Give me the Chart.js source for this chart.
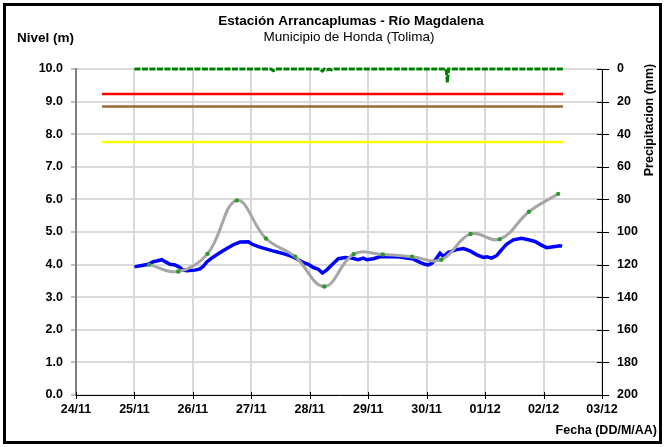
<!DOCTYPE html>
<html>
<head>
<meta charset="utf-8">
<script src="https://cdn.jsdelivr.net/npm/chart.js@4.4.1/dist/chart.umd.min.js"></script>
<style>
html,body{margin:0;padding:0;background:#fff;}
#c{display:block;}
</style>
</head>
<body>
<canvas id="c" width="665" height="447"></canvas>
<script>
// ---- data ----
const dateLabels = ['24/11','25/11','26/11','27/11','28/11','29/11','30/11','01/12','02/12','03/12'];
const levelTicks = [0,1,2,3,4,5,6,7,8,9,10];
const rainTicks = [0,20,40,60,80,100,120,140,160,180,200];

// observed level (hours since 24/11 00:00)
const levelHours = [24,27.0,29.7,31.7,33.1,35.2,36.6,38.6,40.7,42.7,43.8,45.5,48.9,50.9,52.3,53.7,55.7,58.4,61.2,64.6,67.4,70.8,72.2,74.9,77.6,80.4,83.1,85.8,88.6,91.3,93.3,95.4,97.5,99.5,101.2,103.0,105.0,107.7,110.5,113.2,115.9,118.0,119.4,122.1,124.8,127.6,130.3,133.1,135.8,138.5,141.3,143.3,144.7,146.1,148.1,149.5,150.9,152.9,156.3,159.1,161.8,164.6,167.3,168.7,170.7,172.8,174.8,176.9,179.6,183.0,185.8,188.5,191.3,193.3,196.0,198.8,199.6];
const levelValues = [3.93,3.97,4.01,4.09,4.11,4.15,4.09,4.01,3.99,3.91,3.84,3.81,3.83,3.87,3.95,4.08,4.20,4.33,4.46,4.61,4.69,4.70,4.63,4.55,4.49,4.43,4.38,4.32,4.25,4.15,4.07,4.01,3.91,3.86,3.74,3.84,3.99,4.18,4.22,4.20,4.15,4.20,4.15,4.18,4.24,4.25,4.24,4.23,4.20,4.17,4.07,4.01,3.99,4.04,4.20,4.35,4.25,4.38,4.46,4.49,4.42,4.30,4.22,4.24,4.20,4.28,4.46,4.63,4.76,4.81,4.76,4.71,4.59,4.52,4.55,4.58,4.56];

// forecast level
const forecastHours = [30,42,54,66,78,90,102,114,126,138,150,162,174,186,198];
const forecastValues = [4.00,3.79,4.33,5.97,4.80,4.24,3.33,4.32,4.31,4.24,4.15,4.94,4.78,5.62,6.17];

// alert thresholds
const thresholdHours = [10.7,200];
const redLevel = 9.23;
const brownLevel = 8.85;
const yellowLevel = 7.76;

// precipitation (mm)
const rainHours = [24,80,81,82,100,101.2,102,103,104,105,106,152,152.5,153,200];
const rainValues = [0,0,1.0,0,0,1.3,0,0.5,0,0.5,0,0,8.2,0,0];

// ---- helpers ----
const FONT = "'Liberation Sans', Arial, sans-serif";
function pts(xs, ys){ return xs.map((x,i)=>({x:x, y:ys[i]})); }
function flat(xs, v){ return xs.map(x=>({x:x, y:v})); }

const decor = {
  id:'decor',
  beforeDraw(chart){
    const ctx = chart.ctx;
    ctx.save();
    ctx.fillStyle = '#fff';
    ctx.fillRect(0,0,chart.width,chart.height);
    ctx.restore();
  },
  afterDraw(chart){
    const ctx = chart.ctx;
    const xs = chart.scales.x, y2 = chart.scales.y2;
    const ca = chart.chartArea;
    ctx.save();
    // crossing ticks
    ctx.strokeStyle = '#000';
    ctx.lineWidth = 1;
    ctx.beginPath();
    dateLabels.forEach((l,i)=>{
      const px = Math.round(xs.getPixelForValue(i*24))+0.5;
      ctx.moveTo(px, ca.bottom-3); ctx.lineTo(px, ca.bottom+4);
    });
    rainTicks.forEach(v=>{
      const py = Math.round(y2.getPixelForValue(v))+0.5;
      ctx.moveTo(ca.right-5, py); ctx.lineTo(ca.right+7, py);
    });
    ctx.stroke();
    // texts
    ctx.fillStyle = '#000';
    ctx.textAlign = 'center';
    ctx.textBaseline = 'middle';
    ctx.font = "bold 13.5px " + FONT;
    ctx.fillText('Estación Arrancaplumas - Río Magdalena', 351, 21);
    ctx.font = "13.5px " + FONT;
    ctx.fillText('Municipio de Honda (Tolima)', 349, 37);
    ctx.font = "bold 13.5px " + FONT;
    ctx.textAlign = 'left';
    ctx.fillText('Nivel (m)', 17, 38);
    ctx.font = "bold 12.5px " + FONT;
    ctx.textAlign = 'right';
    ctx.fillText('Fecha (DD/M/AA)', 657, 431);
    ctx.save();
    ctx.translate(650, 120);
    ctx.rotate(-Math.PI/2);
    ctx.textAlign = 'center';
    ctx.fillText('Precipitacion (mm)', 0, 0);
    ctx.restore();
    // outer border
    ctx.strokeStyle = '#000';
    ctx.lineWidth = 3;
    ctx.strokeRect(4.5,4.5,656,438);
    ctx.restore();
  }
};

new Chart(document.getElementById('c'), {
  type:'line',
  data:{
    datasets:[
      {label:'Precipitación', data:pts(rainHours, rainValues), yAxisID:'y2', borderColor:'#008000', borderWidth:3, borderDash:[6,1.5], pointRadius:0, tension:0, clip:false, order:1},
      {label:'Pronóstico', data:pts(forecastHours, forecastValues), yAxisID:'y', borderColor:'#A6A6A6', borderWidth:3, tension:0.4, pointRadius:2.2, pointBackgroundColor:'#2E9A2E', pointBorderColor:'#2E9A2E', pointBorderWidth:0, order:2},
      {label:'Nivel', data:pts(levelHours, levelValues), yAxisID:'y', borderColor:'#0000FF', borderWidth:3.5, tension:0, pointRadius:0, order:3},
      {label:'Rojo', data:flat(thresholdHours, redLevel), yAxisID:'y', borderColor:'#FF0000', borderWidth:2.5, pointRadius:0, order:4},
      {label:'Naranja', data:flat(thresholdHours, brownLevel), yAxisID:'y', borderColor:'#9C6A3A', borderWidth:2.5, pointRadius:0, order:4},
      {label:'Amarillo', data:flat(thresholdHours, yellowLevel), yAxisID:'y', borderColor:'#FFFF00', borderWidth:2.5, pointRadius:0, order:4}
    ]
  },
  options:{
    responsive:false,
    animation:false,
    devicePixelRatio:1,
    layout:{padding:{top:69, left:0, right:0, bottom:0}},
    plugins:{legend:{display:false}, tooltip:{enabled:false}, title:{display:false}},
    scales:{
      x:{
        type:'linear', min:0, max:216,
        afterFit(s){ s.height = 52; },
        afterBuildTicks(s){ s.ticks = dateLabels.map((l,i)=>({value:i*24})); },
        ticks:{ callback:(v)=>dateLabels[Math.round(v/24)], font:{family:FONT, size:12.5, weight:'bold'}, color:'#000', padding:7, maxRotation:0, autoSkip:false },
        grid:{ color:'#D9D9D9', lineWidth:2, drawTicks:false },
        border:{ display:true, color:'#000', width:1 }
      },
      y:{
        position:'left', min:0, max:10,
        afterFit(s){ s.width = 76; },
        afterBuildTicks(s){ s.ticks = levelTicks.map(v=>({value:v})); },
        ticks:{ callback:(v)=>Number(v).toFixed(1), font:{family:FONT, size:12.5, weight:'bold'}, color:'#000', padding:8 },
        grid:{ color:'#D9D9D9', lineWidth:2, tickLength:5, tickColor:'#808080', tickWidth:1 },
        border:{ display:true, color:'#808080', width:2 }
      },
      y2:{
        position:'right', min:0, max:200, reverse:true,
        afterFit(s){ s.width = 63; },
        afterBuildTicks(s){ s.ticks = rainTicks.map(v=>({value:v})); },
        ticks:{ font:{family:FONT, size:12.5, weight:'bold'}, color:'#000', padding:15 },
        grid:{ drawOnChartArea:false, drawTicks:false },
        border:{ display:true, color:'#000', width:1 }
      }
    }
  },
  plugins:[decor]
});
</script>
</body>
</html>
